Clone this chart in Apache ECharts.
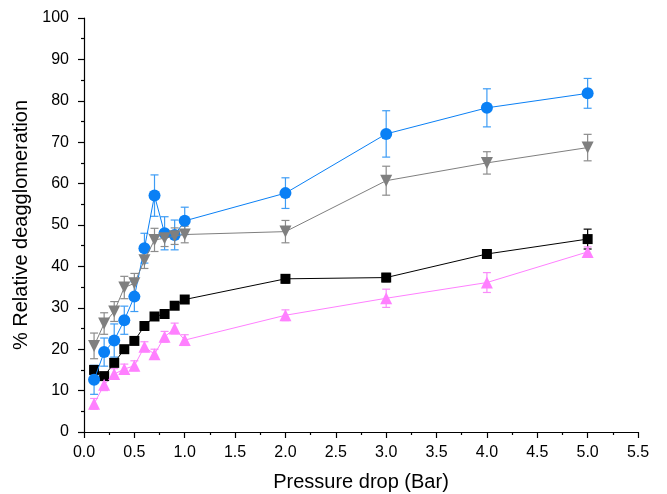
<!DOCTYPE html>
<html>
<head>
<meta charset="utf-8">
<script src="https://cdn.jsdelivr.net/npm/echarts@6/dist/echarts.min.js"></script>
<style>
  html, body { margin: 0; padding: 0; background: #fff; }
  #chart { width: 667px; height: 494px; }
</style>
</head>
<body>
<div id="chart"></div>
<script>
const pressure = [0.1, 0.2, 0.3, 0.4, 0.5, 0.6, 0.7, 0.8, 0.9, 1.0, 2, 3, 4, 5];

const blackVals = [15.0, 13.5, 16.7, 20.0, 22.0, 25.6, 27.9, 28.5, 30.5, 32.0, 37.0, 37.3, 43.0, 46.6];
const blackErr  = [0.8, 0.5, 0.8, 0.8, 0.6, 0.8, 0.7, 0.7, 0.7, 0.8, 1.0, 1.0, 0.8, 2.4];

const pinkVals = [6.8, 11.4, 14.0, 15.2, 16.0, 20.6, 18.8, 23.0, 25.0, 22.2, 28.2, 32.3, 36.1, 43.5];
const pinkErr  = [1.3, 1.4, 1.3, 1.2, 1.2, 1.2, 1.2, 1.3, 1.3, 1.3, 1.3, 2.2, 2.4, 1.2];

const grayVals = [20.8, 26.2, 29.1, 34.9, 35.9, 41.5, 46.4, 46.8, 47.3, 47.7, 48.4, 60.7, 65.0, 68.7];
const grayErr  = [3.1, 2.6, 2.4, 2.7, 2.4, 2.0, 2.8, 2.0, 2.0, 2.0, 2.7, 3.5, 2.7, 3.2];

const blueVals = [12.6, 19.3, 22.1, 27.0, 32.7, 44.4, 57.1, 48.0, 47.6, 51.0, 57.7, 72.0, 78.3, 81.8];
const blueErr  = [3.5, 3.4, 4.0, 3.4, 3.6, 3.6, 5.0, 4.0, 3.6, 3.3, 3.7, 5.6, 4.6, 3.6];

const xTicks = { min: 0, max: 5.5, step: 0.5 };
const yTicks = { min: 0, max: 100, step: 10 };

const FONT = '"Liberation Sans", Arial, sans-serif';

function pairs(vals) {
    return pressure.map((p, i) => [p, vals[i]]);
}

function errorSeries(vals, errs, color) {
    return {
        type: 'custom',
        silent: true,
        z: 1,
        data: pressure.map((p, i) => [p, vals[i] - errs[i], vals[i] + errs[i]]),
        renderItem: function (params, api) {
            const lo = api.coord([api.value(0), api.value(1)]);
            const hi = api.coord([api.value(0), api.value(2)]);
            const w = 4;
            const style = { stroke: color, lineWidth: 1.2 };
            return {
                type: 'group',
                children: [
                    { type: 'line', shape: { x1: lo[0], y1: lo[1], x2: hi[0], y2: hi[1] }, style: style },
                    { type: 'line', shape: { x1: lo[0] - w, y1: lo[1], x2: lo[0] + w, y2: lo[1] }, style: style },
                    { type: 'line', shape: { x1: hi[0] - w, y1: hi[1], x2: hi[0] + w, y2: hi[1] }, style: style }
                ]
            };
        }
    };
}

function lineSeries(vals, color, symbol, size, rotate, z) {
    return {
        type: 'line',
        data: pairs(vals),
        symbol: symbol,
        symbolSize: size,
        symbolRotate: rotate,
        showAllSymbol: true,
        z: z,
        lineStyle: { color: color, width: 1 },
        itemStyle: { color: color, borderWidth: 0 }
    };
}

const chart = echarts.init(document.getElementById('chart'), null, { renderer: 'canvas' });

const axisCommon = {
    axisLine: { show: true, onZero: false, lineStyle: { color: '#000', width: 1.2 } },
    axisTick: { show: true, inside: false, length: 6, lineStyle: { color: '#000', width: 1.2 } },
    minorTick: { show: true, splitNumber: 2, length: 3, lineStyle: { color: '#000', width: 1.2 } },
    splitLine: { show: false },
    nameLocation: 'middle',
    nameTextStyle: { fontFamily: FONT, fontSize: 20, color: '#000' }
};

chart.setOption({
    backgroundColor: '#fff',
    animation: false,
    grid: { left: 84, right: 29, top: 18, bottom: 62, containLabel: false, outerBoundsMode: 'none' },
    xAxis: Object.assign({}, axisCommon, {
        type: 'value',
        min: xTicks.min,
        max: xTicks.max,
        interval: xTicks.step,
        name: 'Pressure drop (Bar)',
        nameGap: 40,
        axisLabel: {
            margin: 13,
            fontFamily: FONT,
            fontSize: 16,
            color: '#000',
            formatter: v => v.toFixed(1)
        }
    }),
    yAxis: Object.assign({}, axisCommon, {
        type: 'value',
        min: yTicks.min,
        max: yTicks.max,
        interval: yTicks.step,
        name: '% Relative deagglomeration',
        nameGap: 46,
        axisLabel: {
            margin: 15,
            fontFamily: FONT,
            fontSize: 16,
            color: '#000'
        }
    }),
    series: [
        errorSeries(blackVals, blackErr, '#000000'),
        errorSeries(pinkVals, pinkErr, '#f98cf9'),
        errorSeries(blueVals, blueErr, '#3d9cf5'),
        errorSeries(grayVals, grayErr, '#8c8c8c'),
        lineSeries(blackVals, '#000000', 'rect', 10, 0, 3),
        lineSeries(pinkVals, '#ff80ff', 'triangle', 12, 0, 3),
        lineSeries(blueVals, '#0a80f5', 'circle', 12, 0, 4),
        lineSeries(grayVals, '#7f7f7f', 'triangle', 12, 180, 5)
    ]
});

window.addEventListener('resize', () => chart.resize());
</script>
</body>
</html>
